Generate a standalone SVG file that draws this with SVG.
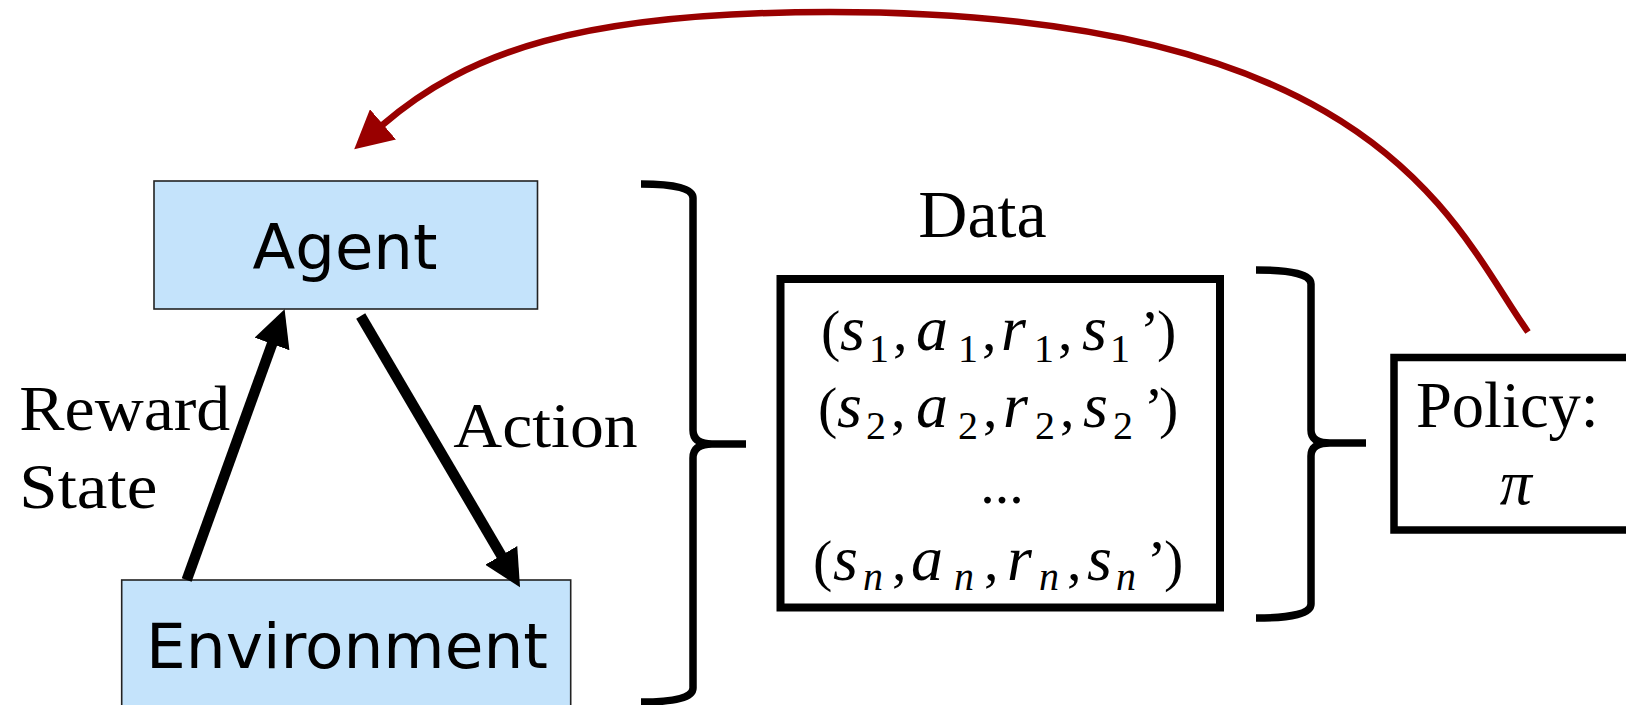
<svg xmlns="http://www.w3.org/2000/svg" width="1626" height="705" viewBox="0 0 1626 705">
<style>
.box{fill:#c4e3fb;stroke:#222;stroke-width:1.6}
.sans{font-family:"DejaVu Sans","Liberation Sans",sans-serif;font-size:62px;fill:#000}
.serif{font-family:"Liberation Serif","Times New Roman",serif;font-size:64px;fill:#000}
.math{font-family:"Liberation Serif","Times New Roman",serif;font-size:58px;fill:#000}
.it{font-style:italic;font-size:64px}
.sub{font-size:40px}
.frame{fill:none;stroke:#000;stroke-width:8}
.brace{fill:none;stroke:#000;stroke-width:7.5;stroke-linecap:butt;stroke-linejoin:round}
.blk{fill:none;stroke:#000;stroke-width:10.5}
.red{fill:none;stroke:#990000;stroke-width:6.5}
</style>
<defs>
<marker id="ahB" markerUnits="userSpaceOnUse" viewBox="0 0 37 37" markerWidth="37" markerHeight="37" refX="2" refY="18.5" orient="auto">
<path d="M0,0 L37,18.5 L0,37 z" fill="#000"/>
</marker>
<marker id="ahR" markerUnits="userSpaceOnUse" viewBox="0 0 38 40" markerWidth="38" markerHeight="40" refX="2" refY="20" orient="auto">
<path d="M0,0 L38,20 L0,40 z" fill="#990000"/>
</marker>
</defs>

<g id="agent">
<rect class="box" x="154" y="181" width="383.5" height="128"/>
<text class="sans" x="252.5" y="269" textLength="185" lengthAdjust="spacingAndGlyphs">Agent</text>
</g>

<g id="environment">
<rect class="box" x="121.7" y="580" width="449" height="140"/>
<text class="sans" x="146" y="668.3" textLength="402" lengthAdjust="spacingAndGlyphs">Environment</text>
</g>

<g id="labels">
<text class="serif" x="19.3" y="430" textLength="211" lengthAdjust="spacingAndGlyphs">Reward</text>
<text class="serif" x="19.3" y="508" textLength="138" lengthAdjust="spacingAndGlyphs">State</text>
<text class="serif" x="453.3" y="446.7" textLength="184.4" lengthAdjust="spacingAndGlyphs">Action</text>
</g>

<g id="brace-left">
<path class="brace" d="M641,184 Q693,184 693,198 L693,430 Q693,444 712,444 L746,444 M712,444 Q693,444 693,458 L693,688 Q693,702 641,702"/>
</g>

<g id="data">
<text class="serif" x="982.5" y="236.7" text-anchor="middle" style="font-size:68px">Data</text>
<rect class="frame" x="780.5" y="279" width="439.5" height="328.5"/>
<text class="math"><tspan x="821" y="350">(</tspan><tspan class="it" x="840" y="350">s</tspan><tspan class="sub" x="869" y="362">1</tspan><tspan x="893" y="350">,</tspan><tspan class="it" x="916" y="350">a</tspan><tspan class="sub" x="958" y="362">1</tspan><tspan x="982" y="350">,</tspan><tspan class="it" x="1001" y="350">r</tspan><tspan class="sub" x="1034" y="362">1</tspan><tspan x="1058" y="350">,</tspan><tspan class="it" x="1082" y="350">s</tspan><tspan class="sub" x="1110" y="362">1</tspan><tspan x="1140" y="350">’</tspan><tspan x="1157" y="350">)</tspan></text>
<text class="math"><tspan x="818" y="427">(</tspan><tspan class="it" x="837" y="427">s</tspan><tspan class="sub" x="866" y="439">2</tspan><tspan x="891" y="427">,</tspan><tspan class="it" x="916" y="427">a</tspan><tspan class="sub" x="958" y="439">2</tspan><tspan x="983" y="427">,</tspan><tspan class="it" x="1003" y="427">r</tspan><tspan class="sub" x="1035" y="439">2</tspan><tspan x="1060" y="427">,</tspan><tspan class="it" x="1083" y="427">s</tspan><tspan class="sub" x="1113" y="439">2</tspan><tspan x="1144" y="427">’</tspan><tspan x="1159" y="427">)</tspan></text>
<text class="math" x="1002" y="503" text-anchor="middle">...</text>
<text class="math"><tspan x="813" y="580">(</tspan><tspan class="it" x="833" y="580">s</tspan><tspan class="sub" style="font-style:italic" x="863" y="590">n</tspan><tspan x="892" y="580">,</tspan><tspan class="it" x="911" y="580">a</tspan><tspan class="sub" style="font-style:italic" x="954" y="590">n</tspan><tspan x="984" y="580">,</tspan><tspan class="it" x="1007" y="580">r</tspan><tspan class="sub" style="font-style:italic" x="1039" y="590">n</tspan><tspan x="1067" y="580">,</tspan><tspan class="it" x="1087" y="580">s</tspan><tspan class="sub" style="font-style:italic" x="1116" y="590">n</tspan><tspan x="1147" y="580">’</tspan><tspan x="1164" y="580">)</tspan></text>
</g>

<g id="brace-right">
<path class="brace" d="M1256,270 Q1311,270 1311,284 L1311,430 Q1311,443 1330,443 L1366,443 M1330,443 Q1311,443 1311,456 L1311,604 Q1311,618 1256,618"/>
</g>

<g id="policy">
<rect class="frame" x="1394" y="357.5" width="300" height="172.5" style="stroke-width:7.5"/>
<text class="serif" x="1416" y="427" style="font-size:64.5px">Policy:</text>
<text class="serif" x="1515.7" y="503.5" text-anchor="middle" style="font-style:italic">π</text>
</g>

<g id="connectors">
<path class="blk" d="M186.7,580 L272.7,342.1" marker-end="url(#ahB)"/>
<path class="blk" d="M360.7,316 L502.3,557.1" marker-end="url(#ahB)"/>
<path class="red" d="M1528,332 C1452,224 1380,12 830,12 C580,12 467,52 381.5,125.7" marker-end="url(#ahR)"/>
</g>
</svg>
